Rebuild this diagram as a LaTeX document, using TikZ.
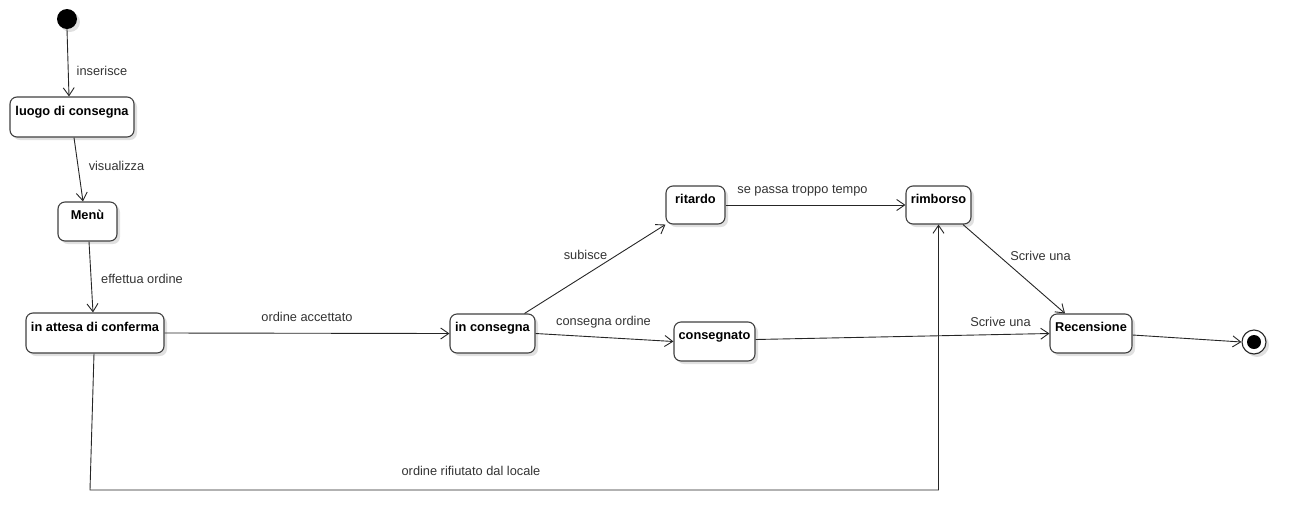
\documentclass[tikz,border=0pt]{standalone}
\usepackage{fontspec}
\setmainfont{Liberation Sans}
\usetikzlibrary{arrows.meta,shadows}

\tikzset{
  statebox/.style={draw=black!75, line width=1.1pt, rounded corners=7pt, fill=white,
    font=\fontsize{12.8}{15}\selectfont\bfseries, text height=9.5pt, text depth=13.5pt,
    inner xsep=1pt, minimum height=40pt,
    drop shadow={shadow xshift=3pt, shadow yshift=-3pt, opacity=.12, fill=black}},
  lbl/.style={font=\fontsize{12.8}{15}\selectfont, text=black!80, inner sep=0pt},
  arr/.style={draw=black!85, line width=0.9pt, -{Straight Barb[length=8pt,width=11pt]}}
}

\begin{document}
\begin{tikzpicture}[x=1pt, y=-1pt]
    \useasboundingbox (0,0) rectangle (1307,531);
    \node[circle, fill=black, minimum size=20pt, inner sep=0pt,
      drop shadow={shadow xshift=3pt, shadow yshift=-3pt, opacity=.12, fill=black}] (start) at (67,19) {};
    \node[statebox, minimum width=124pt] (luogo) at (72,117) {luogo di consegna};
    \node[statebox, minimum width=59pt, minimum height=39pt] (menu) at (87.5,221.5) {Menù};
    \node[statebox, minimum width=138pt] (attesa) at (95,333) {in attesa di conferma};
    \node[statebox, minimum width=85pt, minimum height=39pt] (incons) at (492.5,333.5) {in consegna};
    \node[statebox, minimum width=59pt, minimum height=38pt] (ritardo) at (695.5,205) {ritardo};
    \node[statebox, minimum width=65pt, minimum height=38pt] (rimborso) at (938.5,205) {rimborso};
    \node[statebox, minimum width=81pt, minimum height=39pt] (consegnato) at (714.5,341.5) {consegnato};
    \node[statebox, minimum width=82pt, minimum height=39pt] (recensione) at (1091,333.5) {Recensione};
    \node[circle, draw=black!85, line width=1.1pt, fill=white, minimum size=24pt, inner sep=0pt,
      drop shadow={shadow xshift=3pt, shadow yshift=-3pt, opacity=.12, fill=black}] (fine) at (1254,342) {};
    \node[circle, fill=black, minimum size=14pt, inner sep=0pt] (finedot) at (fine) {};
    \coordinate (rifiuto) at (90,490);

    \draw[arr] (start.south) -- ([xshift=-3pt]luogo.north);
    \draw[arr] ([xshift=2pt]luogo.south) -- ([xshift=-4.5pt]menu.north);
    \draw[arr] ([xshift=1.5pt]menu.south) -- ([xshift=-2pt]attesa.north);
    \draw[arr] (attesa.east) -- (incons.west);
    \draw[arr] (incons.east) -- (consegnato.west);
    \draw[arr] ([xshift=32pt]incons.north) -- (ritardo.south west);
    \draw[arr] (ritardo.east) -- (rimborso.west);
    \draw[arr] ([xshift=24.5pt]rimborso.south) -- ([xshift=-26pt]recensione.north);
    \draw[arr] ([yshift=2pt]consegnato.east) -- (recensione.west);
    \draw[arr] ([yshift=-1.5pt]recensione.east) -- (fine.west);
    \draw[arr] ([xshift=-1pt]attesa.south) -- (rifiuto) -| (rimborso.south);

    \node[lbl] (l-inserisce) at (102,71) {inserisce};
    \node[lbl] (l-visualizza) at (116.5,166) {visualizza};
    \node[lbl] (l-effettua) at (142,279) {effettua ordine};
    \node[lbl] (l-accettato) at (307,317) {ordine accettato};
    \node[lbl] (l-consegna) at (603.5,322) {consegna ordine};
    \node[lbl] (l-subisce) at (585.5,255) {subisce};
    \node[lbl] (l-tempo) at (802.5,191) {se passa troppo tempo};
    \node[lbl] (l-scrive-alto) at (1040.5,256) {Scrive una};
    \node[lbl] (l-scrive-basso) at (1000.5,322) {Scrive una};
    \node[lbl] (l-rifiutato) at (471,471) {ordine rifiutato dal locale};
\end{tikzpicture}
\end{document}
